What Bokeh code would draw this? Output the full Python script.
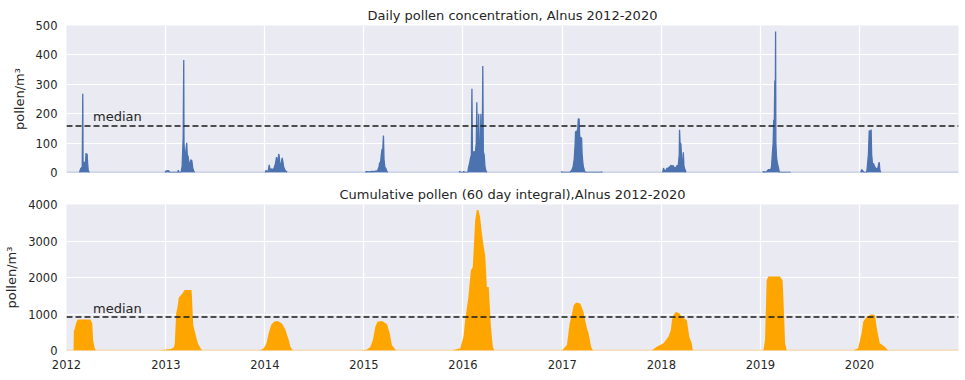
import pandas as pd
from bokeh.plotting import figure
from bokeh.layouts import column
from bokeh.models import Range1d, FixedTicker, DatetimeTickFormatter, Span, Label
from bokeh.embed import file_html
from bokeh.resources import INLINE

# ---------------- data (day offset from 1 Jan of the season year, value) ----------------
years = [2012, 2013, 2014, 2015, 2016, 2017, 2018, 2019, 2020]
tick_labels = ["2012", "2013", "2014", "2015", "2016", "2017", "2018", "2019", "2020"]
top_yticks = [0, 100, 200, 300, 400, 500]
bot_yticks = [0, 1000, 2000, 3000, 4000]
daily_median = 158
cumul_median = 920
median_label_date = "2012-04-08"

# Daily concentration (pollen/m3)
t2012_days = [48, 52, 58, 59, 60, 61, 62, 66, 70, 72, 74, 76, 78, 80, 84]
t2012_vals = [0, 12, 20, 150, 268, 40, 30, 35, 30, 66, 50, 64, 30, 8, 0]
t2013_days = [-3, 2, 5, 8, 12, 15, 44, 46, 48, 56, 60, 64, 66, 67, 70, 73, 77, 79, 82, 86, 89, 92, 96, 99, 103, 106]
t2013_vals = [0, 6, 3, 7, 4, 0, 0, 8, 0, 0, 20, 120, 383, 100, 45, 66, 101, 60, 55, 25, 30, 43, 40, 15, 5, 0]
t2014_days = [0, 5, 8, 13, 16, 19, 24, 32, 35, 39, 43, 46, 49, 51, 53, 55, 58, 61, 64, 66, 69, 73, 77, 82]
t2014_vals = [0, 7, 2, 8, 26, 10, 12, 10, 18, 30, 52, 35, 45, 63, 55, 32, 25, 35, 50, 38, 20, 10, 5, 0]
t2015_days = [5, 8, 20, 30, 36, 42, 48, 52, 56, 58, 61, 64, 67, 69, 72, 74, 77, 80, 84, 88]
t2015_vals = [0, 3, 2, 4, 3, 5, 5, 10, 20, 35, 30, 60, 80, 70, 126, 45, 18, 15, 5, 0]
t2016_days = [-14, -12, -10, 1, 3, 5, 18, 20, 24, 28, 31, 33, 35, 38, 42, 46, 49, 51, 53, 56, 58, 60, 63, 66, 68, 71, 73, 75, 78, 81, 84, 88]
t2016_vals = [0, 4, 0, 0, 4, 0, 0, 15, 30, 50, 60, 285, 55, 70, 70, 72, 100, 239, 70, 55, 200, 55, 60, 200, 60, 75, 362, 70, 60, 20, 8, 0]
t2017_days = [-4, -1, 2, 28, 32, 36, 40, 44, 47, 49, 52, 54, 57, 59, 62, 64, 66, 71, 73, 76, 78, 82, 86, 145, 146, 147]
t2017_vals = [0, 3, 0, 0, 5, 10, 20, 46, 90, 140, 135, 140, 150, 182, 182, 125, 118, 118, 63, 30, 18, 5, 0, 0, 3, 0]
t2018_days = [5, 8, 11, 14, 18, 21, 25, 28, 32, 36, 40, 43, 47, 51, 55, 58, 61, 63, 66, 67, 69, 72, 75, 78, 81, 83, 85, 91]
t2018_vals = [0, 15, 8, 5, 10, 15, 12, 18, 20, 25, 12, 25, 15, 18, 15, 25, 20, 30, 60, 145, 100, 98, 40, 20, 69, 25, 15, 0]
t2019_days = [8, 10, 14, 18, 22, 30, 38, 41, 44, 47, 49, 51, 53, 55, 56, 57, 59, 60, 63, 66, 70, 108, 109, 110]
t2019_vals = [0, 2, 3, 0, 2, 10, 10, 20, 63, 100, 179, 150, 313, 250, 480, 100, 60, 46, 30, 18, 0, 0, 2, 0]
t2020_days = [5, 8, 10, 14, 18, 26, 28, 30, 33, 36, 39, 41, 43, 45, 48, 52, 56, 60, 64, 68, 71, 73, 75, 78]
t2020_vals = [0, 10, 8, 3, 0, 0, 10, 30, 60, 143, 130, 140, 146, 60, 30, 30, 20, 13, 14, 15, 30, 35, 10, 0]

# Cumulative pollen (60 day integral)
c2012_days = [26, 27, 29, 37, 42, 88, 95, 98, 104, 109]
c2012_vals = [0, 540, 560, 785, 850, 850, 740, 290, 60, 0]
c2013_days = [-26, -19, 18, 30, 33, 38, 43, 48, 61, 69, 95, 101, 110, 118, 128, 134]
c2013_vals = [0, 5, 40, 90, 200, 1000, 1200, 1450, 1560, 1660, 1660, 700, 430, 200, 60, 0]
c2014_days = [-19, -4, 6, 14, 23, 33, 47, 63, 76, 83, 88, 94, 103]
c2014_vals = [0, 60, 200, 470, 700, 785, 810, 740, 560, 400, 290, 100, 0]
c2015_days = [-10, 10, 24, 33, 42, 50, 67, 85, 95, 103, 112, 119]
c2015_vals = [0, 20, 100, 290, 650, 785, 810, 720, 470, 150, 60, 0]
c2016_days = [-41, -10, 2, 8, 20, 29, 36, 45, 51, 57, 63, 70, 75, 82, 88, 95, 103, 110, 115]
c2016_vals = [0, 60, 380, 830, 1470, 2195, 2285, 3560, 3850, 3850, 3650, 3195, 2920, 2600, 1740, 1740, 650, 100, 0]
c2017_days = [-1, 17, 27, 36, 42, 51, 66, 78, 85, 91, 97, 106, 113]
c2017_vals = [0, 150, 740, 1015, 1240, 1315, 1285, 1060, 800, 600, 470, 100, 0]
c2018_days = [-35, -17, 8, 26, 35, 39, 45, 54, 67, 75, 84, 94, 103, 112, 116]
c2018_vals = [0, 100, 200, 380, 560, 830, 970, 1060, 1015, 920, 880, 830, 380, 200, 0]
c2019_days = [11, 17, 23, 29, 72, 82, 87, 91, 97]
c2019_vals = [0, 290, 1920, 2030, 2030, 1920, 1015, 200, 0]
c2020_days = [-23, -5, 8, 14, 26, 44, 57, 65, 75, 93, 106]
c2020_vals = [0, 60, 470, 785, 920, 995, 970, 560, 200, 100, 0]

top_series = [
    (2012, t2012_days, t2012_vals), (2013, t2013_days, t2013_vals), (2014, t2014_days, t2014_vals),
    (2015, t2015_days, t2015_vals), (2016, t2016_days, t2016_vals), (2017, t2017_days, t2017_vals),
    (2018, t2018_days, t2018_vals), (2019, t2019_days, t2019_vals), (2020, t2020_days, t2020_vals),
]
bot_series = [
    (2012, c2012_days, c2012_vals), (2013, c2013_days, c2013_vals), (2014, c2014_days, c2014_vals),
    (2015, c2015_days, c2015_vals), (2016, c2016_days, c2016_vals), (2017, c2017_days, c2017_vals),
    (2018, c2018_days, c2018_vals), (2019, c2019_days, c2019_vals), (2020, c2020_days, c2020_vals),
]

# ---------------- styling ----------------
BLUE = "#4C72B0"
ORANGE = "#FFA500"
BG = "#EAEAF2"
TXT = "#262626"
FONT = "DejaVu Sans"

x_start = pd.Timestamp("2012-01-01")
x_end = pd.Timestamp("2020-12-31")
year_ticks = [pd.Timestamp(f"{y}-01-01").value / 1e6 for y in years]


def to_dates(year, days):
    return pd.Timestamp(f"{year}-01-01") + pd.to_timedelta(days, unit="D")


def make_fig(height, title, yticks, ymax, top_border, bottom_border, show_x):
    p = figure(width=960, height=height, x_axis_type="datetime",
               x_range=Range1d(x_start, x_end), y_range=Range1d(0, ymax),
               output_backend="svg", toolbar_location=None,
               min_border_left=66, min_border_right=2,
               min_border_top=top_border, min_border_bottom=bottom_border,
               background_fill_color=BG, border_fill_color="white",
               outline_line_color=None)
    p.title.text = title
    p.title.align = "center"
    p.title.text_font = FONT
    p.title.text_font_size = "13px"
    p.title.text_font_style = "normal"
    p.title.text_color = TXT
    p.title.standoff = 6
    p.xaxis.ticker = FixedTicker(ticks=year_ticks)
    p.xgrid.ticker = FixedTicker(ticks=year_ticks)
    p.xaxis.formatter = DatetimeTickFormatter(years="%Y", months="%Y", days="%Y",
                                              hours="%Y", minutes="%Y", seconds="%Y")
    p.yaxis.ticker = FixedTicker(ticks=yticks)
    for ax in (p.xaxis[0], p.yaxis[0]):
        ax.axis_line_color = None
        ax.major_tick_line_color = None
        ax.minor_tick_line_color = None
        ax.major_tick_out = 0
        ax.major_tick_in = 0
        ax.major_label_text_font = FONT
        ax.major_label_text_font_size = "11.5px"
        ax.major_label_text_color = TXT
    p.yaxis.major_label_standoff = 9
    p.xaxis.major_label_standoff = 9
    p.yaxis.axis_label = "pollen/m³"
    p.yaxis.axis_label_text_font = FONT
    p.yaxis.axis_label_text_font_size = "13px"
    p.yaxis.axis_label_text_font_style = "normal"
    p.yaxis.axis_label_text_color = TXT
    p.yaxis.axis_label_standoff = 6
    p.xaxis.visible = show_x
    p.grid.grid_line_color = "white"
    p.grid.grid_line_width = 1.2
    return p


p1 = make_fig(180, "Daily pollen concentration, Alnus 2012-2020", top_yticks, 500, 25, 8, False)
p1.line(x=[x_start, x_end], y=[0, 0], line_color=BLUE, line_alpha=0.45, line_width=1.5)
for yr, d, v in top_series:
    xs = to_dates(yr, d)
    p1.varea(x=xs, y1=0, y2=v, fill_color=BLUE)
    p1.line(x=xs, y=v, line_color=BLUE, line_width=1.3)
p1.add_layout(Span(location=daily_median, dimension="width", line_color="#1a1a1a",
                   line_dash="6 3", line_width=1.5))
p1.add_layout(Label(x=pd.Timestamp(median_label_date), y=daily_median * 1.1, y_offset=5,
                    text="median", text_font=FONT, text_font_size="13px", text_color=TXT,
                    text_baseline="middle"))

p2 = make_fig(196, "Cumulative pollen (60 day integral),Alnus 2012-2020", bot_yticks, 4000, 24, 26, True)
p2.line(x=[x_start, x_end], y=[0, 0], line_color=ORANGE, line_alpha=0.5, line_width=1.5)
for yr, d, v in bot_series:
    xs = to_dates(yr, d)
    p2.varea(x=xs, y1=0, y2=v, fill_color=ORANGE)
p2.add_layout(Span(location=cumul_median, dimension="width", line_color="#1a1a1a",
                   line_dash="6 3", line_width=1.5))
p2.add_layout(Label(x=pd.Timestamp(median_label_date), y=cumul_median * 1.1, y_offset=5,
                    text="median", text_font=FONT, text_font_size="13px", text_color=TXT,
                    text_baseline="middle"))

layout = column(p1, p2, spacing=0)
open("out.html", "w").write(file_html(layout, INLINE))
